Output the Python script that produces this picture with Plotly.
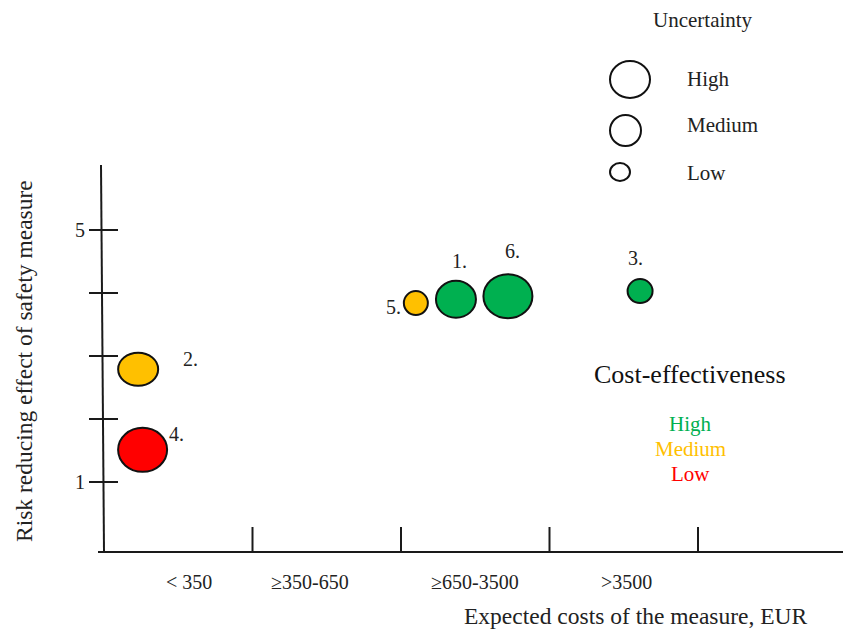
import plotly.graph_objects as go

# ---------------- data ----------------
measures = ["1.", "2.", "3.", "4.", "5.", "6."]
cost_pos = [2.37, 0.23, 3.61, 0.26, 2.10, 2.72]        # position on cost axis (category units)
risk_effect = [3.90, 2.79, 4.03, 1.51, 3.84, 3.95]      # risk reducing effect (1..5)
bubble_w = [42, 42, 27, 51, 26, 51]                    # bubble width (uncertainty)
bubble_h = [39, 35, 26, 46, 26, 46]                    # bubble height
cost_effect = ["High", "Medium", "High", "Low", "Medium", "High"]

cost_categories = ["< 350", "≥350-650", "≥650-3500", ">3500"]
cost_bounds = [0, 1, 2, 3, 4]
risk_ticks = [1, 2, 3, 4, 5]
risk_tick_labels = ["1", "", "", "", "5"]
uncertainty_levels = ["High", "Medium", "Low"]
uncertainty_w = [42, 33, 22]
uncertainty_h = [39, 33, 20]
ce_levels = ["High", "Medium", "Low"]

# ---------------- styling ----------------
W, H = 843, 629
FONT = "Liberation Serif, Times New Roman, DejaVu Serif, serif"
INK = "#1a1a1a"
CE_COLORS = {"High": "#00B050", "Medium": "#FFC000", "Low": "#FF0000"}
X0, XS = 104.0, 148.5      # pixel of cost 0, pixels per category
Y1, YS = 482.0, 63.0       # pixel of risk 1, pixels per unit


def X(px):
    return (px - X0) / XS


def Y(py):
    return 1 + (Y1 - py) / YS


def ellipse(xa, ya, w, h, fill):
    return dict(type="circle", xref="x", yref="y", xsizemode="pixel", ysizemode="pixel",
                xanchor=xa, yanchor=ya, x0=-(w - 2) / 2, x1=(w - 2) / 2,
                y0=-(h - 2) / 2, y1=(h - 2) / 2, fillcolor=fill,
                line=dict(color="#111", width=2), layer="above")


fig = go.Figure()

# axes lines
fig.add_trace(go.Scatter(x=[X(101), X(104)], y=[Y(165), Y(552)], mode="lines",
                         line=dict(color=INK, width=2), hoverinfo="skip", showlegend=False))
fig.add_trace(go.Scatter(x=[X(98), X(W)], y=[Y(552), Y(552)], mode="lines",
                         line=dict(color=INK, width=2), hoverinfo="skip", showlegend=False))

# x boundary ticks
for b in cost_bounds[1:]:
    fig.add_trace(go.Scatter(x=[b, b], y=[Y(552), Y(527)], mode="lines",
                             line=dict(color=INK, width=2), hoverinfo="skip", showlegend=False))
# y ticks
for t, lab in zip(risk_ticks, risk_tick_labels):
    fig.add_trace(go.Scatter(x=[X(89), X(118)], y=[t, t], mode="lines",
                             line=dict(color=INK, width=2), hoverinfo="skip", showlegend=False))
    if lab:
        fig.add_annotation(x=X(87), y=t, text=lab, showarrow=False, xanchor="right",
                           yanchor="middle", font=dict(family=FONT, size=20, color="#222"))

# x category labels
label_shift = [11, -17, 0, 3]
for i, (cat, sh) in enumerate(zip(cost_categories, label_shift)):
    fig.add_annotation(x=i + 0.5, y=Y(582), xshift=sh, text=cat, showarrow=False,
                       xanchor="center", yanchor="middle",
                       font=dict(family=FONT, size=20, color="#222"))

# bubbles (hover points + elliptical marks anchored on the data)
fig.add_trace(go.Scatter(
    x=cost_pos, y=risk_effect, mode="markers",
    marker=dict(size=[min(w, h) - 4 for w, h in zip(bubble_w, bubble_h)],
                color=[CE_COLORS[c] for c in cost_effect], line=dict(width=0)),
    text=measures, hoverinfo="text", showlegend=False))
shapes = [ellipse(x, y, w, h, CE_COLORS[c])
          for x, y, w, h, c in zip(cost_pos, risk_effect, bubble_w, bubble_h, cost_effect)]

# bubble number labels
label_offsets = {"1.": (4, -38), "2.": (52, -10), "3.": (-5, -33),
                 "4.": (34, -16), "5.": (-22, 4), "6.": (5, -45)}
for m, x, y in zip(measures, cost_pos, risk_effect):
    dx, dy = label_offsets[m]
    fig.add_annotation(x=x, y=y, xshift=dx, yshift=-dy, text=m, showarrow=False,
                       xanchor="center", yanchor="middle",
                       font=dict(family=FONT, size=20, color="#222"))

# axis titles
fig.add_annotation(x=X(636), y=Y(616), text="Expected costs of the measure, EUR", showarrow=False,
                   xanchor="center", yanchor="middle", font=dict(family=FONT, size=23.5, color="#222"))
fig.add_annotation(x=X(24), y=Y(361), text="Risk reducing effect of safety measure", showarrow=False,
                   textangle=-90, xanchor="center", yanchor="middle",
                   font=dict(family=FONT, size=23.5, color="#222"))

# uncertainty legend
fig.add_annotation(x=X(703), y=Y(20), text="Uncertainty", showarrow=False, xanchor="center",
                   yanchor="middle", font=dict(family=FONT, size=21, color="#222"))
leg_cx = [630, 625.5, 620]
leg_cy = [79.5, 130.5, 172]
for cx, cy, w, h in zip(leg_cx, leg_cy, uncertainty_w, uncertainty_h):
    shapes.append(ellipse(X(cx), Y(cy), w, h, "rgba(0,0,0,0)"))
for lev, cy in zip(uncertainty_levels, [79, 125, 173]):
    fig.add_annotation(x=X(685), y=Y(cy), text=lev, showarrow=False, xanchor="left",
                       yanchor="middle", font=dict(family=FONT, size=21, color="#222"))

# cost-effectiveness legend
fig.add_annotation(x=X(690), y=Y(374), text="Cost-effectiveness", showarrow=False, xanchor="center",
                   yanchor="middle", font=dict(family=FONT, size=26, color="#111"))
for lev, cy in zip(ce_levels, [424, 449, 474]):
    fig.add_annotation(x=X(690), y=Y(cy), text=lev, showarrow=False, xanchor="center",
                       yanchor="middle", font=dict(family=FONT, size=21, color=CE_COLORS[lev]))

fig.update_layout(
    width=W, height=H, margin=dict(l=0, r=0, t=0, b=0),
    paper_bgcolor="white", plot_bgcolor="white",
    xaxis=dict(range=[X(0), X(W)], visible=False, fixedrange=True),
    yaxis=dict(range=[Y(H), Y(0)], visible=False, fixedrange=True),
    shapes=shapes,
    showlegend=False,
)

fig.write_html("out.html", config={"displayModeBar": False},
               post_script="document.body.style.margin='0';document.body.style.overflow='hidden';")
